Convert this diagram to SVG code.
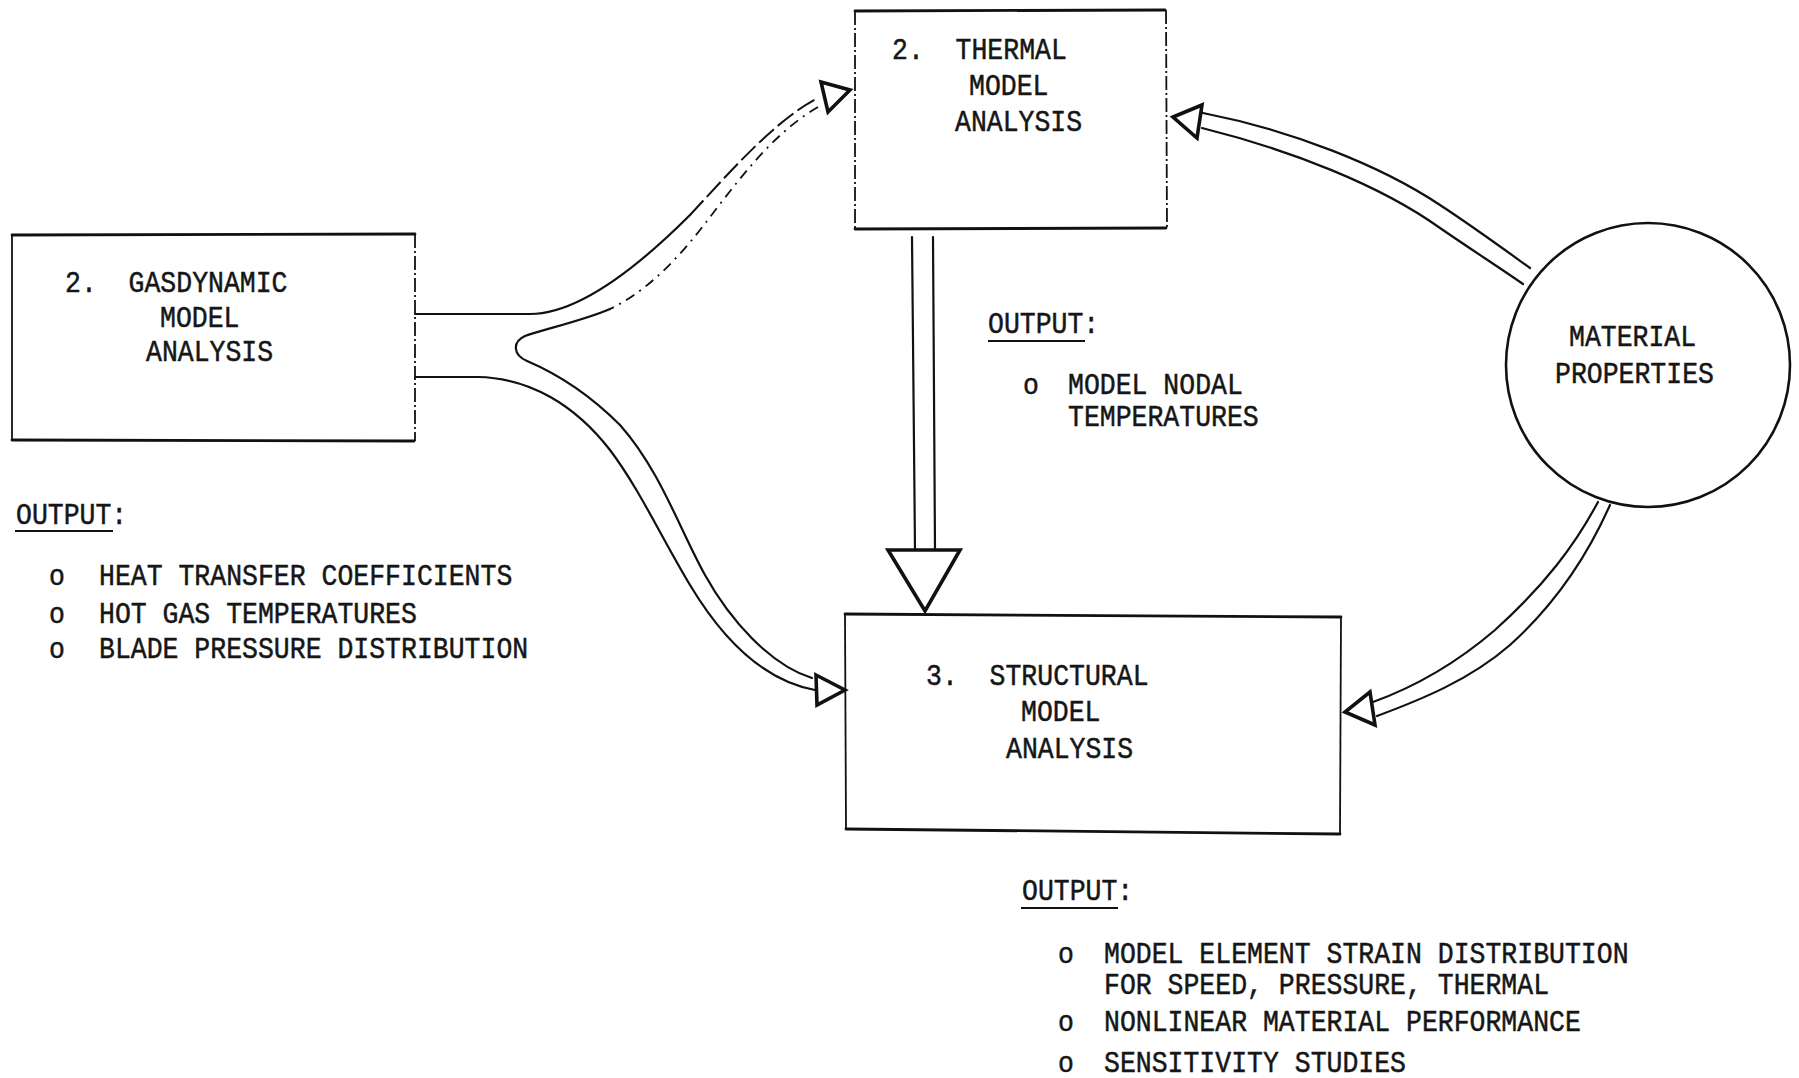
<svg xmlns="http://www.w3.org/2000/svg" width="1799" height="1078" viewBox="0 0 1799 1078" xml:space="preserve">
<style>
text{font-family:"Liberation Mono","DejaVu Sans Mono",monospace;font-size:26.5px;fill:#161616;stroke:#161616;stroke-width:0.45;white-space:pre;transform-box:fill-box;transform-origin:0 80%;transform:scaleY(1.1)}
.edge{stroke:#111;stroke-width:2.8;fill:none;stroke-linecap:round}
.side{stroke:#111;stroke-width:1.8;fill:none}
.dside{stroke:#111;stroke-width:1.8;fill:none;stroke-dasharray:14 3 2 3}
.ln{stroke:#111;stroke-width:2.2;fill:none;stroke-linecap:round}
.dash{stroke:#111;stroke-width:2;fill:none;stroke-dasharray:20 5}
.dashdot{stroke:#111;stroke-width:1.8;fill:none;stroke-dasharray:10 6 2 6}
.head{stroke:#111;stroke-width:3.6;fill:#fff;stroke-linejoin:miter}
.ul{stroke:#111;stroke-width:2.2}
</style>
<rect width="1799" height="1078" fill="#fff"/>
<g id="gasdynamic">
<line class="edge" x1="12" y1="235" x2="415" y2="234"/>
<line class="edge" x1="12" y1="440" x2="414" y2="441"/>
<line class="side" x1="12" y1="235" x2="12" y2="440"/>
<line class="dside" x1="415" y1="234" x2="415" y2="441"/>
<text x="65" y="292">2.  GASDYNAMIC</text>
<text x="160" y="327">MODEL</text>
<text x="146" y="361">ANALYSIS</text>
</g>
<g id="thermal">
<line class="edge" x1="855" y1="11" x2="1165" y2="10"/>
<line class="edge" x1="855" y1="229" x2="1166" y2="228"/>
<line class="dside" x1="855" y1="11" x2="855" y2="229"/>
<line class="dside" x1="1166" y1="10" x2="1167" y2="228"/>
<text x="892" y="59">2.  THERMAL</text>
<text x="969" y="95">MODEL</text>
<text x="955" y="131">ANALYSIS</text>
</g>
<g id="structural">
<line class="edge" x1="845" y1="614" x2="1341" y2="617"/>
<line class="edge" x1="846" y1="829" x2="1340" y2="834"/>
<line class="side" x1="845" y1="614" x2="846" y2="829"/>
<line class="side" x1="1341" y1="617" x2="1340" y2="834"/>
<text x="926" y="685">3.  STRUCTURAL</text>
<text x="1021" y="721">MODEL</text>
<text x="1006" y="758">ANALYSIS</text>
</g>
<g id="material">
<circle cx="1648" cy="365" r="142" fill="none" stroke="#111" stroke-width="2.6"/>
<text x="1569" y="346">MATERIAL</text>
<text x="1555" y="383">PROPERTIES</text>
</g>
<g id="gas-output">
<text x="16" y="524">OUTPUT:</text>
<line class="ul" x1="15" y1="531" x2="113" y2="531"/>
<text x="49" y="585">o</text><text x="99" y="585">HEAT TRANSFER COEFFICIENTS</text>
<text x="49" y="623">o</text><text x="99" y="623">HOT GAS TEMPERATURES</text>
<text x="49" y="658">o</text><text x="99" y="658">BLADE PRESSURE DISTRIBUTION</text>
</g>
<g id="thermal-output">
<text x="988" y="333">OUTPUT:</text>
<line class="ul" x1="988" y1="341" x2="1085" y2="341"/>
<text x="1023" y="394">o</text><text x="1068" y="394">MODEL NODAL</text>
<text x="1068" y="426">TEMPERATURES</text>
</g>
<g id="structural-output">
<text x="1022" y="900">OUTPUT:</text>
<line class="ul" x1="1021" y1="908" x2="1118" y2="908"/>
<text x="1058" y="963">o</text><text x="1104" y="963">MODEL ELEMENT STRAIN DISTRIBUTION</text>
<text x="1104" y="994">FOR SPEED, PRESSURE, THERMAL</text>
<text x="1058" y="1031">o</text><text x="1104" y="1031">NONLINEAR MATERIAL PERFORMANCE</text>
<text x="1058" y="1072">o</text><text x="1104" y="1072">SENSITIVITY STUDIES</text>
</g>
<g id="connectors">
<path class="ln" d="M415,314 L530,314 C580,314 640,265 690,215"/>
<path class="dash" d="M690,215 C730,172 775,120 818,98"/>
<path class="dashdot" d="M818,107 C770,135 735,185 700,230 C670,268 640,295 610,309"/>
<path class="ln" d="M610,309 C585,320 545,329 525,336 C512,342 513,355 527,361 C560,375 590,395 620,425 C660,470 680,530 705,575 C730,620 770,665 812,678"/>
<path class="ln" d="M415,377 L478,377 C530,378 575,405 610,450 C640,490 660,535 690,585 C720,635 760,680 815,690"/>
<polygon class="head" points="821,82 850,90 828,112"/>
<polygon class="head" points="816,675 845,690 817,705"/>
<line class="ln" x1="912" y1="237" x2="915" y2="550"/>
<line class="ln" x1="933" y1="237" x2="935" y2="550"/>
<polygon class="head" points="888,550 960,550 925,611"/>
<path class="ln" d="M1203,113 C1290,130 1380,165 1440,205 C1475,228 1505,250 1530,268"/>
<path class="ln" d="M1202,128 C1290,150 1380,185 1440,228 C1475,252 1500,268 1523,284"/>
<polygon class="head" points="1173,117 1202,105 1197,138"/>
<path class="ln" d="M1610,505 C1590,550 1560,600 1510,645 C1470,680 1420,700 1377,716"/>
<path class="ln" d="M1598,502 C1575,545 1545,585 1495,630 C1460,660 1420,685 1373,702"/>
<polygon class="head" points="1370,692 1345,712 1375,725"/>
</g>
</svg>
